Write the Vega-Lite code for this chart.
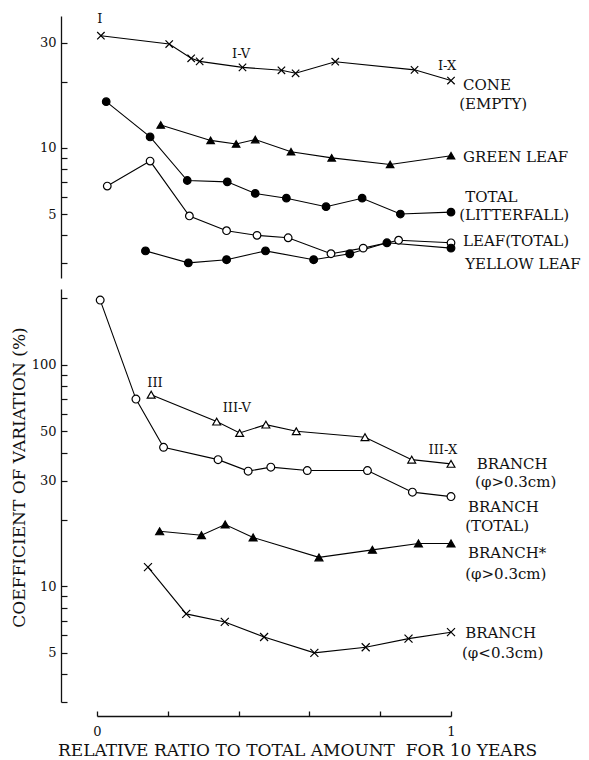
{
  "$schema": "https://vega.github.io/schema/vega-lite/v6.json",
  "padding": {"left": 10, "top": 12, "right": 0, "bottom": 0},
  "spacing": 11,
  "config": {
    "view": {"stroke": null},
    "font": "DejaVu Serif",
    "axis": {"labelFont": "DejaVu Serif", "titleFont": "DejaVu Serif", "labelColor": "#111", "titleColor": "#111", "domainColor": "#111", "tickColor": "#111", "grid": false, "titleFontWeight": "normal", "labelFontSize": 13, "titleFontSize": 17, "domainWidth": 1.3, "tickWidth": 1.2}
  },
  "datasets": {
    "top": [
      {"series": "cone", "x": 0.011, "y": 32.3}, {"series": "cone", "x": 0.204, "y": 29.6}, {"series": "cone", "x": 0.266, "y": 25.5}, {"series": "cone", "x": 0.290, "y": 24.7}, {"series": "cone", "x": 0.411, "y": 23.2}, {"series": "cone", "x": 0.521, "y": 22.5}, {"series": "cone", "x": 0.561, "y": 21.8}, {"series": "cone", "x": 0.673, "y": 24.6}, {"series": "cone", "x": 0.897, "y": 22.6}, {"series": "cone", "x": 1.0, "y": 20.2},
      {"series": "green", "x": 0.180, "y": 12.7}, {"series": "green", "x": 0.321, "y": 10.8}, {"series": "green", "x": 0.393, "y": 10.4}, {"series": "green", "x": 0.447, "y": 10.9}, {"series": "green", "x": 0.548, "y": 9.6}, {"series": "green", "x": 0.663, "y": 9.0}, {"series": "green", "x": 0.828, "y": 8.4}, {"series": "green", "x": 1.0, "y": 9.2},
      {"series": "total", "x": 0.026, "y": 16.2}, {"series": "total", "x": 0.150, "y": 11.2}, {"series": "total", "x": 0.255, "y": 7.1}, {"series": "total", "x": 0.368, "y": 7.0}, {"series": "total", "x": 0.447, "y": 6.2}, {"series": "total", "x": 0.535, "y": 5.9}, {"series": "total", "x": 0.647, "y": 5.4}, {"series": "total", "x": 0.749, "y": 5.9}, {"series": "total", "x": 0.857, "y": 5.0}, {"series": "total", "x": 1.0, "y": 5.1},
      {"series": "leaf", "x": 0.029, "y": 6.7}, {"series": "leaf", "x": 0.150, "y": 8.7}, {"series": "leaf", "x": 0.261, "y": 4.9}, {"series": "leaf", "x": 0.366, "y": 4.2}, {"series": "leaf", "x": 0.452, "y": 4.0}, {"series": "leaf", "x": 0.540, "y": 3.9}, {"series": "leaf", "x": 0.661, "y": 3.3}, {"series": "leaf", "x": 0.752, "y": 3.5}, {"series": "leaf", "x": 0.852, "y": 3.8}, {"series": "leaf", "x": 1.0, "y": 3.7},
      {"series": "yellow", "x": 0.137, "y": 3.4}, {"series": "yellow", "x": 0.258, "y": 3.0}, {"series": "yellow", "x": 0.366, "y": 3.1}, {"series": "yellow", "x": 0.476, "y": 3.4}, {"series": "yellow", "x": 0.612, "y": 3.1}, {"series": "yellow", "x": 0.714, "y": 3.3}, {"series": "yellow", "x": 0.819, "y": 3.7}, {"series": "yellow", "x": 1.0, "y": 3.5}
    ],
    "bottom": [
      {"series": "btotal", "x": 0.009, "y": 196}, {"series": "btotal", "x": 0.110, "y": 70.0}, {"series": "btotal", "x": 0.188, "y": 42.4}, {"series": "btotal", "x": 0.342, "y": 37.3}, {"series": "btotal", "x": 0.427, "y": 33.1}, {"series": "btotal", "x": 0.491, "y": 34.5}, {"series": "btotal", "x": 0.594, "y": 33.3}, {"series": "btotal", "x": 0.764, "y": 33.3}, {"series": "btotal", "x": 0.891, "y": 26.6}, {"series": "btotal", "x": 1.0, "y": 25.4},
      {"series": "bgt", "x": 0.153, "y": 73.3}, {"series": "bgt", "x": 0.338, "y": 55.4}, {"series": "bgt", "x": 0.403, "y": 49.2}, {"series": "bgt", "x": 0.477, "y": 53.7}, {"series": "bgt", "x": 0.563, "y": 50.1}, {"series": "bgt", "x": 0.757, "y": 47.1}, {"series": "bgt", "x": 0.889, "y": 37.3}, {"series": "bgt", "x": 1.0, "y": 35.7},
      {"series": "bstar", "x": 0.177, "y": 17.7}, {"series": "bstar", "x": 0.295, "y": 17.0}, {"series": "bstar", "x": 0.362, "y": 19.0}, {"series": "bstar", "x": 0.441, "y": 16.6}, {"series": "bstar", "x": 0.627, "y": 13.5}, {"series": "bstar", "x": 0.778, "y": 14.6}, {"series": "bstar", "x": 0.908, "y": 15.6}, {"series": "bstar", "x": 1.0, "y": 15.6},
      {"series": "blt", "x": 0.144, "y": 12.2}, {"series": "blt", "x": 0.252, "y": 7.5}, {"series": "blt", "x": 0.361, "y": 6.9}, {"series": "blt", "x": 0.472, "y": 5.9}, {"series": "blt", "x": 0.614, "y": 5.0}, {"series": "blt", "x": 0.759, "y": 5.3}, {"series": "blt", "x": 0.880, "y": 5.8}, {"series": "blt", "x": 1.0, "y": 6.2}
    ],
    "topNotes": [
      {"t": "I", "x": 0.008, "y": 38.6},
      {"t": "I-V", "x": 0.407, "y": 26.7},
      {"t": "I-X", "x": 0.989, "y": 23.6}
    ],
    "topLabels": [
      {"t": "CONE", "x": 1.034, "y": 19.3},
      {"t": "(EMPTY)", "x": 1.023, "y": 15.8},
      {"t": "GREEN LEAF", "x": 1.034, "y": 9.1},
      {"t": "TOTAL", "x": 1.04, "y": 5.98},
      {"t": "(LITTERFALL)", "x": 1.023, "y": 4.96},
      {"t": "LEAF(TOTAL)", "x": 1.034, "y": 3.78},
      {"t": "YELLOW LEAF", "x": 1.04, "y": 2.97}
    ],
    "bottomNotes": [
      {"t": "III", "x": 0.164, "y": 83},
      {"t": "III-V", "x": 0.395, "y": 64},
      {"t": "III-X", "x": 0.977, "y": 41.4}
    ],
    "bottomLabels": [
      {"t": "BRANCH", "x": 1.073, "y": 35.8},
      {"t": "(φ>0.3cm)", "x": 1.068, "y": 29.7},
      {"t": "BRANCH", "x": 1.048, "y": 22.9},
      {"t": "(TOTAL)", "x": 1.04, "y": 18.8},
      {"t": "BRANCH*", "x": 1.048, "y": 14.2},
      {"t": "(φ>0.3cm)", "x": 1.04, "y": 11.4},
      {"t": "BRANCH", "x": 1.04, "y": 6.14},
      {"t": "(φ<0.3cm)", "x": 1.031, "y": 5.0}
    ]
  },
  "vconcat": [
    {
      "width": 354,
      "height": 262,
      "layer": [
        {
          "data": {"name": "top"},
          "mark": {"type": "line", "color": "black", "strokeWidth": 1.1},
          "encoding": {
            "x": {"field": "x", "type": "quantitative", "scale": {"domain": [0, 1], "nice": false, "zero": false}, "axis": null},
            "y": {"field": "y", "type": "quantitative", "scale": {"type": "log", "domain": [2.56, 39.7], "nice": false},
              "axis": {"title": null, "labelFont": "DejaVu Serif", "values": [3, 4, 5, 6, 7, 8, 9, 10, 20, 30], "labelExpr": "datum.value == 5 || datum.value == 10 || datum.value == 30 ? datum.label : ''", "offset": 36, "tickSize": -6, "labelPadding": 11}},
            "detail": {"field": "series"}
          }
        },
        {
          "data": {"name": "top"},
          "mark": {"type": "point", "filled": true, "stroke": "black", "strokeWidth": 1.2, "opacity": 1},
          "encoding": {
            "x": {"field": "x", "type": "quantitative"},
            "y": {"field": "y", "type": "quantitative"},
            "shape": {"field": "series", "scale": {"domain": ["cone", "green", "total", "leaf", "yellow", "btotal", "bgt", "bstar", "blt"], "range": ["M-1,-1L1,1M-1,1L1,-1", "triangle-up", "circle", "circle", "circle", "circle", "triangle-up", "triangle-up", "M-1,-1L1,1M-1,1L1,-1"]}, "legend": null},
            "fill": {"field": "series", "scale": {"domain": ["cone", "green", "total", "leaf", "yellow", "btotal", "bgt", "bstar", "blt"], "range": ["black", "black", "black", "white", "black", "white", "white", "black", "black"]}, "legend": null},
            "size": {"field": "series", "scale": {"domain": ["cone", "green", "total", "leaf", "yellow", "btotal", "bgt", "bstar", "blt"], "range": [55, 64, 45, 38, 45, 38, 55, 64, 55]}, "legend": null}
          }
        },
        {
          "data": {"name": "topNotes"},
          "mark": {"type": "text", "align": "center", "baseline": "middle", "fontSize": 13, "font": "DejaVu Serif", "color": "#111"},
          "encoding": {
            "x": {"field": "x", "type": "quantitative"},
            "y": {"field": "y", "type": "quantitative"},
            "text": {"field": "t"}
          }
        },
        {
          "data": {"name": "topLabels"},
          "mark": {"type": "text", "align": "left", "baseline": "middle", "fontSize": 15, "font": "DejaVu Serif", "color": "#111"},
          "encoding": {
            "x": {"field": "x", "type": "quantitative"},
            "y": {"field": "y", "type": "quantitative"},
            "text": {"field": "t"}
          }
        }
      ]
    },
    {
      "width": 354,
      "height": 413,
      "layer": [
        {
          "data": {"name": "bottom"},
          "mark": {"type": "line", "color": "black", "strokeWidth": 1.1},
          "encoding": {
            "x": {"field": "x", "type": "quantitative", "scale": {"domain": [0, 1], "nice": false, "zero": false},
              "axis": {"title": "RELATIVE RATIO TO TOTAL AMOUNT\u00a0 FOR 10 YEARS", "titleFont": "DejaVu Serif", "labelFont": "DejaVu Serif", "values": [0, 0.1, 0.2, 0.3, 0.4, 0.5, 0.6, 0.7, 0.8, 0.9, 1], "labelExpr": "datum.value == 0 ? '0' : datum.value == 0.5 ? '0.5' : datum.value == 1 ? '1' : ''", "offset": 14, "domain": true, "ticks": true, "domainColor": "#111", "domainWidth": 1.5, "tickSize": -5, "tickWidth": 1.3, "labelPadding": 14, "labelBaseline": "top", "labelOverlap": false, "labelFlush": false, "titlePadding": 4, "titleX": 200}},
            "y": {"field": "y", "type": "quantitative", "scale": {"type": "log", "domain": [3, 220], "nice": false},
              "axis": {"title": "COEFFICIENT OF VARIATION (%)", "titleFont": "DejaVu Serif", "labelFont": "DejaVu Serif", "values": [3, 4, 5, 6, 7, 8, 9, 10, 20, 30, 40, 50, 60, 70, 80, 90, 100, 200], "labelExpr": "datum.value == 5 || datum.value == 10 || datum.value == 30 || datum.value == 50 || datum.value == 100 ? datum.label : ''", "offset": 36, "tickSize": -6, "labelPadding": 11, "titlePadding": 3, "titleY": 188}},
            "detail": {"field": "series"}
          }
        },
        {
          "data": {"name": "bottom"},
          "mark": {"type": "point", "filled": true, "stroke": "black", "strokeWidth": 1.2, "opacity": 1},
          "encoding": {
            "x": {"field": "x", "type": "quantitative"},
            "y": {"field": "y", "type": "quantitative"},
            "shape": {"field": "series", "scale": {"domain": ["cone", "green", "total", "leaf", "yellow", "btotal", "bgt", "bstar", "blt"], "range": ["M-1,-1L1,1M-1,1L1,-1", "triangle-up", "circle", "circle", "circle", "circle", "triangle-up", "triangle-up", "M-1,-1L1,1M-1,1L1,-1"]}, "legend": null},
            "fill": {"field": "series", "scale": {"domain": ["cone", "green", "total", "leaf", "yellow", "btotal", "bgt", "bstar", "blt"], "range": ["black", "black", "black", "white", "black", "white", "white", "black", "black"]}, "legend": null},
            "size": {"field": "series", "scale": {"domain": ["cone", "green", "total", "leaf", "yellow", "btotal", "bgt", "bstar", "blt"], "range": [55, 64, 45, 38, 45, 38, 55, 64, 55]}, "legend": null}
          }
        },
        {
          "data": {"name": "bottomNotes"},
          "mark": {"type": "text", "align": "center", "baseline": "middle", "fontSize": 13, "font": "DejaVu Serif", "color": "#111"},
          "encoding": {
            "x": {"field": "x", "type": "quantitative"},
            "y": {"field": "y", "type": "quantitative"},
            "text": {"field": "t"}
          }
        },
        {
          "data": {"name": "bottomLabels"},
          "mark": {"type": "text", "align": "left", "baseline": "middle", "fontSize": 15, "font": "DejaVu Serif", "color": "#111"},
          "encoding": {
            "x": {"field": "x", "type": "quantitative"},
            "y": {"field": "y", "type": "quantitative"},
            "text": {"field": "t"}
          }
        }
      ]
    }
  ],
  "resolve": {"scale": {"y": "independent"}}
}
